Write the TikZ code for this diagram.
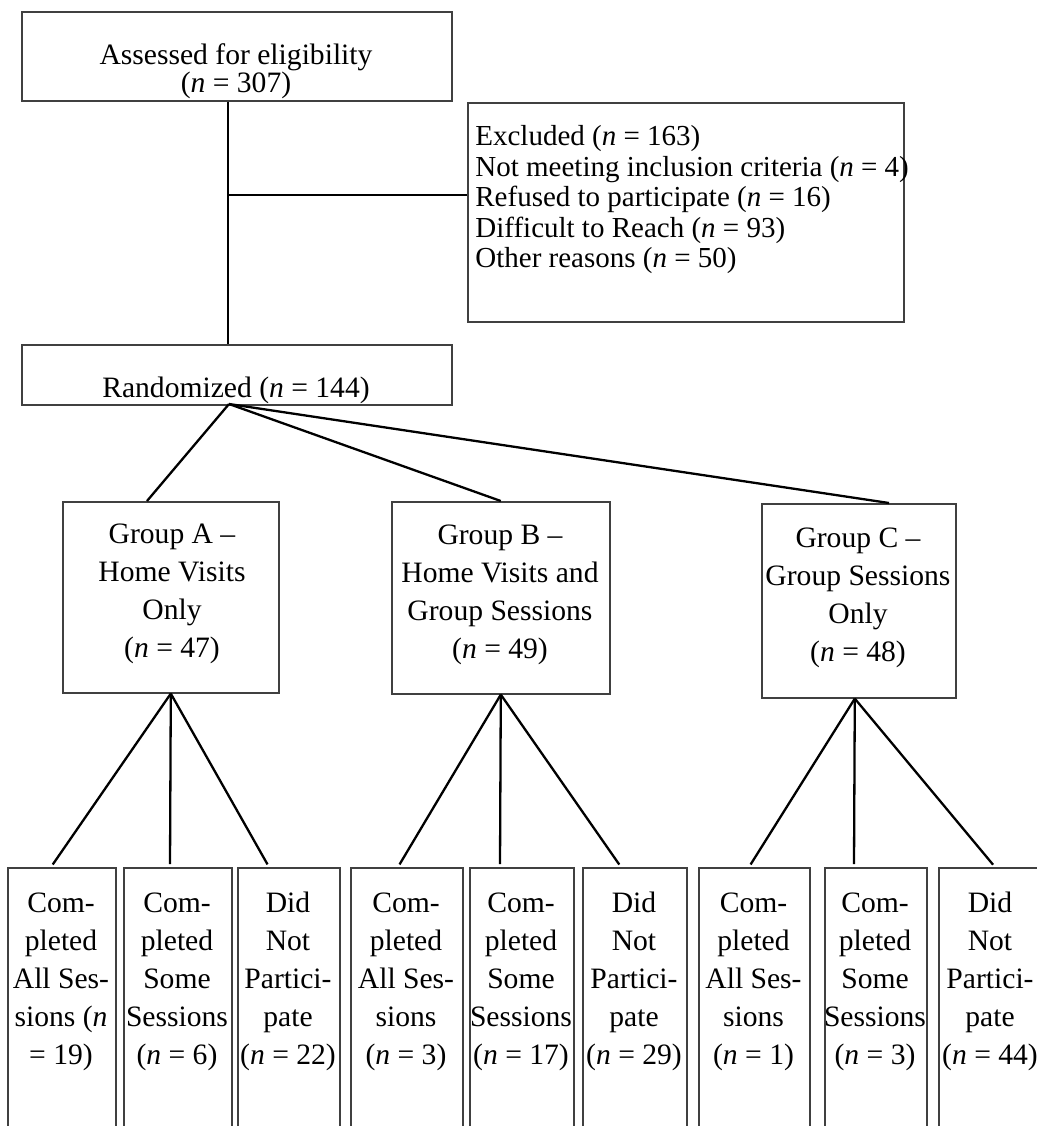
\documentclass[tikz,border=0pt]{standalone}
\usepackage{fontspec}
\setmainfont{Liberation Serif}
\begin{document}
\begin{tikzpicture}[x=0.5pt,y=-0.5pt,
  box/.style={draw=black!75,line width=0.8pt,inner sep=0pt,anchor=north west},
  txt/.style={inner sep=0pt,align=center,font=\fontsize{14.8}{19}\selectfont},
  conn/.style={draw=black,line width=1.15pt},
  leafconn/.style={conn,shorten >=1.5pt}]
\clip (0,0) rectangle (1037,1126);
\fill[white] (0,0) rectangle (1037,1126);
% boxes
\node[box,minimum width=215pt,minimum height=44.5pt] (assessed) at (21,11) {};
\node[box,minimum width=218pt,minimum height=109.5pt] (excl) at (467,102) {};
\node[box,minimum width=215pt,minimum height=30pt] (rand) at (21,344) {};
\node[box,minimum width=108pt,minimum height=95.5pt] (ga) at (62,501) {};
\node[box,minimum width=109pt,minimum height=96pt] (gb) at (391,501) {};
\node[box,minimum width=97pt,minimum height=97pt] (gc) at (761,503) {};
\node[box,minimum width=54pt,minimum height=150pt] (l1) at (7,867) {};
\node[box,minimum width=54pt,minimum height=150pt] (l2) at (123,867) {};
\node[box,minimum width=51pt,minimum height=150pt] (l3) at (237,867) {};
\node[box,minimum width=56pt,minimum height=150pt] (l4) at (350,867) {};
\node[box,minimum width=52pt,minimum height=150pt] (l5) at (469,867) {};
\node[box,minimum width=52pt,minimum height=150pt] (l6) at (582,867) {};
\node[box,minimum width=55.5pt,minimum height=150pt] (l7) at (698,867) {};
\node[box,minimum width=51pt,minimum height=150pt] (l8) at (824,867) {};
\node[box,minimum width=52.5pt,minimum height=150pt] (l9) at (938,867) {};
% texts
\node[txt,anchor=north,font=\fontsize{14.8}{14}\selectfont] (t0) at (236,43)
  {Assessed for eligibility\\(\textit{n} = 307)};
\node[txt,anchor=north west,align=left,font=\fontsize{14.5}{15.25}\selectfont] (t1) at (475,125)
  {Excluded (\textit{n} = 163)\\Not meeting inclusion criteria (\textit{n} = 4)\\Refused to participate (\textit{n} = 16)\\Difficult to Reach (\textit{n} = 93)\\Other reasons (\textit{n} = 50)};
\node[txt,anchor=base] (t2) at (236,397) {Randomized (\textit{n} = 144)};
\node[txt,anchor=north] (ta) at (172,523) {Group A –\\Home Visits\\Only\\(\textit{n} = 47)};
\node[txt,anchor=north] (tb) at (500,524) {Group B –\\Home Visits and\\Group Sessions\\(\textit{n} = 49)};
\node[txt,anchor=north] (tc) at (858,527) {Group C –\\Group Sessions\\Only\\(\textit{n} = 48)};
\node[txt,anchor=north] (s1) at (61,892) {Com-\\pleted\\All Ses-\\sions (\textit{n}\\= 19)};
\node[txt,anchor=north] (s2) at (177,892) {Com-\\pleted\\Some\\Sessions\\(\textit{n} = 6)};
\node[txt,anchor=north] (s3) at (288,892) {Did\\Not\\Partici-\\pate\\(\textit{n} = 22)};
\node[txt,anchor=north] (s4) at (406,892) {Com-\\pleted\\All Ses-\\sions\\(\textit{n} = 3)};
\node[txt,anchor=north] (s5) at (521,892) {Com-\\pleted\\Some\\Sessions\\(\textit{n} = 17)};
\node[txt,anchor=north] (s6) at (634,892) {Did\\Not\\Partici-\\pate\\(\textit{n} = 29)};
\node[txt,anchor=north] (s7) at (753.5,892) {Com-\\pleted\\All Ses-\\sions\\(\textit{n} = 1)};
\node[txt,anchor=north] (s8) at (875,892) {Com-\\pleted\\Some\\Sessions\\(\textit{n} = 3)};
\node[txt,anchor=north] (s9) at (990,892) {Did\\Not\\Partici-\\pate\\(\textit{n} = 44)};
% connectors
\coordinate (j) at (228,195);
\draw[conn] (assessed.south -| j) -- (rand.north -| j);
\draw[conn] (j) -- (j -| excl.west);
\coordinate (rj) at (229,404);
\draw[conn] (rj) -- ([xshift=42.5pt]ga.north west);
\draw[conn] (rj) -- (gb.north);
\draw[conn] (rj) -- ([xshift=64pt]gc.north west);
\draw[leafconn] (ga.south) -- ([xshift=22pt]l1.north west);
\draw[leafconn] (ga.south) -- ([xshift=23.5pt]l2.north west);
\draw[leafconn] (ga.south) -- ([xshift=16pt]l3.north west);
\draw[leafconn] (gb.south) -- ([xshift=24pt]l4.north west);
\draw[leafconn] (gb.south) -- ([xshift=15.5pt]l5.north west);
\draw[leafconn] (gb.south) -- ([xshift=19.5pt]l6.north west);
\draw[leafconn] ([xshift=-2pt]gc.south) -- ([xshift=25.5pt]l7.north west);
\draw[leafconn] ([xshift=-2pt]gc.south) -- ([xshift=15pt]l8.north west);
\draw[leafconn] ([xshift=-2pt]gc.south) -- ([xshift=28.5pt]l9.north west);
\end{tikzpicture}
\end{document}
